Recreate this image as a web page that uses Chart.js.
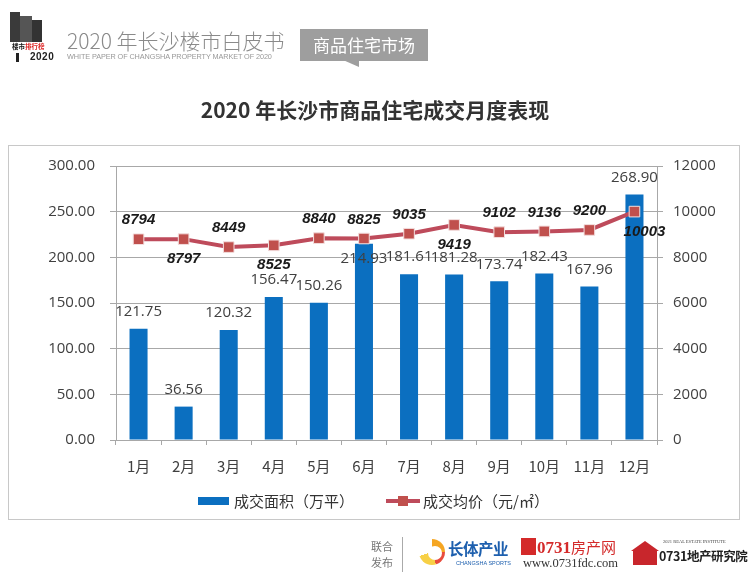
<!DOCTYPE html>
<html>
<head>
<meta charset="utf-8">
<script src="https://cdn.jsdelivr.net/npm/chart.js@4/dist/chart.umd.min.js"></script>
<style>
  html,body{margin:0;padding:0;background:#fff;}
  #wrap{position:relative;width:750px;height:578px;overflow:hidden;font-family:"Noto Sans CJK SC","Noto Sans",sans-serif;}
  #c{position:absolute;left:0;top:0;}
  .abs{position:absolute;white-space:nowrap;}
</style>
</head>
<body>
<div id="wrap">
  <canvas id="c" width="750" height="578"></canvas>

  <!-- header logo -->
  <div class="abs" style="left:10px;top:12px;width:10px;height:30px;background:#3a3a3a;"></div>
  <div class="abs" style="left:20px;top:16px;width:12px;height:26px;background:#555;"></div>
  <div class="abs" style="left:32px;top:20px;width:10px;height:22px;background:#333;"></div>
  <div class="abs" style="left:12px;top:42px;font-size:6.5px;font-weight:bold;color:#111;line-height:8px;">楼市<span style="color:#d22;">排行榜</span></div>
  <div class="abs" style="left:16px;top:53px;width:3px;height:9px;background:#222;"></div>
  <div class="abs" style="left:30px;top:51px;font-size:10px;font-weight:bold;color:#222;font-family:'Liberation Sans',sans-serif;letter-spacing:0.5px;">2020</div>

  <div class="abs" style="left:67px;top:25px;font-size:21px;font-weight:300;color:#8a8a8a;">2020 年长沙楼市白皮书</div>
  <div class="abs" style="left:67px;top:52px;font-size:7.3px;color:#999;font-family:'Liberation Sans',sans-serif;letter-spacing:-0.1px;">WHITE PAPER OF CHANGSHA PROPERTY MARKET OF 2020</div>
  <div class="abs" style="left:300px;top:29px;width:128px;height:32px;background:#9e9e9e;"></div>
  <div class="abs" style="left:343px;top:60px;width:0;height:0;border-left:16px solid transparent;border-top:7px solid #9e9e9e;"></div>
  <div class="abs" style="left:300px;top:31px;width:128px;text-align:center;font-size:17px;color:#fff;line-height:28px;">商品住宅市场</div>

  <!-- chart title -->
  <div class="abs" style="left:0;top:94px;width:750px;text-align:center;font-size:21px;font-weight:bold;color:#333;">2020 年长沙市商品住宅成交月度表现</div>

  <!-- outer frame -->
  <div class="abs" style="left:8px;top:145px;width:732px;height:375px;border:1px solid #c8c8c8;box-sizing:border-box;"></div>

  <!-- legend -->
  <div class="abs" style="left:198px;top:497px;width:31px;height:8px;background:#0B6FC0;"></div>
  <div class="abs" style="left:234px;top:490px;font-size:15px;color:#333;">成交面积（万平）</div>
  <div class="abs" style="left:386px;top:499px;width:34px;height:4px;background:#BE4B5B;"></div>
  <div class="abs" style="left:398px;top:496px;width:10px;height:10px;background:#C0504D;"></div>
  <div class="abs" style="left:423px;top:490px;font-size:15px;color:#333;">成交均价（元/㎡）</div>

  <!-- footer -->
  <div class="abs" style="left:371px;top:538px;font-size:11px;color:#777;line-height:16px;">联合<br>发布</div>
  <div class="abs" style="left:402px;top:537px;width:1px;height:35px;background:#aaa;"></div>
  <div class="abs" style="left:419px;top:539px;width:26px;height:26px;border-radius:50%;background:conic-gradient(#f5a623 0 25%,#e84c3d 25% 45%,#f7d046 45% 70%,#fff 70% 100%);"></div>
  <div class="abs" style="left:428px;top:546px;width:14px;height:14px;border-radius:50%;background:#fff;"></div>
  <div class="abs" style="left:448px;top:537px;font-size:15.5px;font-weight:bold;color:#1d5fae;letter-spacing:-0.5px;">长体产业</div>
  <div class="abs" style="left:456px;top:560px;font-size:5.5px;color:#1d5fae;font-family:'Liberation Sans',sans-serif;">CHANGSHA SPORTS</div>
  <div class="abs" style="left:521px;top:538px;width:15px;height:17px;background:#d42a2a;"></div>
  <div class="abs" style="left:537px;top:537px;font-size:17px;font-weight:bold;color:#d42a2a;font-family:'Liberation Serif',serif;line-height:20px;">0731<span style="font-family:'Noto Sans CJK SC';font-size:15px;font-weight:normal;">房产网</span></div>
  <div class="abs" style="left:523px;top:556px;font-size:12.5px;color:#333;font-family:'Liberation Serif',serif;">www.0731fdc.com</div>
  <div class="abs" style="left:631px;top:541px;width:0;height:0;border-left:14px solid transparent;border-right:14px solid transparent;border-bottom:10px solid #c8262c;"></div>
  <div class="abs" style="left:633px;top:551px;width:24px;height:14px;background:#c8262c;"></div>
  <div class="abs" style="left:663px;top:539px;font-size:4.5px;color:#444;font-family:'Liberation Serif',serif;">2021 REAL ESTATE INSTITUTE</div>
  <div class="abs" style="left:659px;top:546px;font-size:12.5px;font-weight:bold;color:#222;letter-spacing:-0.4px;">0731地产研究院</div>
</div>

<script>
const months = ['1月','2月','3月','4月','5月','6月','7月','8月','9月','10月','11月','12月'];
const areaValues = [121.75, 36.56, 120.32, 156.47, 150.26, 214.93, 181.61, 181.28, 173.74, 182.43, 167.96, 268.90];
const priceValues = [8794, 8797, 8449, 8525, 8840, 8825, 9035, 9419, 9102, 9136, 9200, 10003];
const leftTicks = [0, 50, 100, 150, 200, 250, 300];
const rightTicks = [0, 2000, 4000, 6000, 8000, 10000, 12000];

// label placement styles (not data)
const priceLabelSide = ['up','down','up','down','up','up','up','down','up','up','up','down'];
const areaLabelInside = [false,false,false,false,false,true,false,false,false,false,false,false];

const labelPlugin = {
  id: 'valueLabels',
  afterDatasetsDraw(chart) {
    const ctx = chart.ctx;
    ctx.save();
    const barMeta = chart.getDatasetMeta(1);
    ctx.font = '15px "Open Sans", sans-serif';
    ctx.fillStyle = '#404040';
    ctx.textAlign = 'center';
    ctx.textBaseline = 'middle';
    barMeta.data.forEach((el, i) => {
      const y = areaLabelInside[i] ? el.y + 15 : el.y - 17;
      ctx.fillText(areaValues[i].toFixed(2), el.x, y);
    });
    const lineMeta = chart.getDatasetMeta(0);
    ctx.font = 'italic bold 15px "Liberation Sans", Arial, sans-serif';
    ctx.fillStyle = '#1a1a1a';
    lineMeta.data.forEach((el, i) => {
      let x = el.x;
      if (i === priceValues.length - 1) x += 10;
      const y = priceLabelSide[i] === 'up' ? el.y - 19 : el.y + 20;
      ctx.fillText(String(priceValues[i]), x, y);
    });
    ctx.restore();
  }
};

const gridColor = '#a8a8a8';

new Chart(document.getElementById('c'), {
  data: {
    labels: months,
    datasets: [
      {
        type: 'line',
        label: '成交均价（元/㎡）',
        data: priceValues,
        yAxisID: 'yR',
        borderColor: '#BE4B5B',
        borderWidth: 4,
        pointStyle: 'rect',
        pointRadius: 7.5,
        pointBackgroundColor: '#C0504D',
        pointBorderColor: '#f3dede',
        pointBorderWidth: 1,
        tension: 0,
        order: 1
      },
      {
        type: 'bar',
        label: '成交面积（万平）',
        data: areaValues,
        yAxisID: 'yL',
        backgroundColor: '#0B6FC0',
        barPercentage: 0.4,
        categoryPercentage: 1.0,
        order: 2
      }
    ]
  },
  options: {
    responsive: false,
    animation: false,
    devicePixelRatio: 1,
    layout: { padding: { top: 166, left: 0, right: 0, bottom: 0 } },
    plugins: { legend: { display: false }, tooltip: { enabled: false } },
    scales: {
      x: {
        offset: true,
        grid: { display: true, drawOnChartArea: false, drawTicks: true, tickLength: 5, color: gridColor, offset: true },
        border: { display: true, color: gridColor, width: 1 },
        ticks: { color: '#404040', font: { size: 15, family: '"Noto Sans CJK SC", sans-serif' }, padding: 12, maxRotation: 0 },
        afterFit(s) { s.height = 578 - 440; }
      },
      yL: {
        position: 'left',
        min: 0, max: 300,
        afterBuildTicks(s) { s.ticks = leftTicks.map(v => ({ value: v })); },
        grid: { color: gridColor, tickLength: 6, drawTicks: true },
        border: { display: true, color: gridColor },
        ticks: { color: '#404040', padding: 15, font: { size: 15, family: '"Open Sans", sans-serif' }, callback: v => Number(v).toFixed(2) },
        afterFit(s) { s.width = 116; }
      },
      yR: {
        position: 'right',
        min: 0, max: 12000,
        afterBuildTicks(s) { s.ticks = rightTicks.map(v => ({ value: v })); },
        grid: { drawOnChartArea: false, color: gridColor, tickLength: 6, drawTicks: true },
        border: { display: true, color: gridColor },
        ticks: { color: '#404040', padding: 10, font: { size: 15, family: '"Open Sans", sans-serif' }, callback: v => String(v) },
        afterFit(s) { s.width = 750 - 657; }
      }
    }
  },
  plugins: [labelPlugin]
});
</script>
</body>
</html>
